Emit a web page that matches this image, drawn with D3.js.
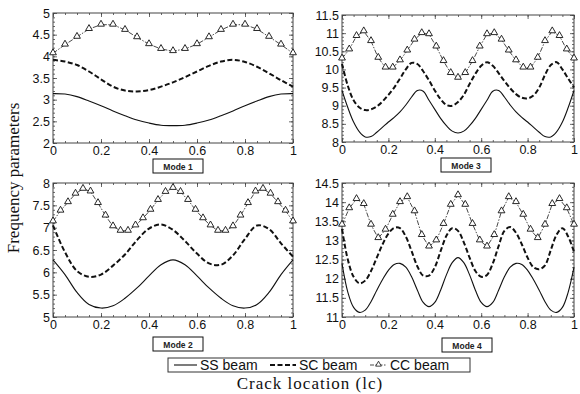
<!DOCTYPE html>
<html><head><meta charset="utf-8">
<script src="https://cdn.jsdelivr.net/npm/d3@7"></script>
<style>body{margin:0;background:#fff}svg{display:block}</style>
</head><body><svg id="c" width="580" height="394"></svg>
<script>
// ---------- data ----------
const xTickValues = [0, 0.2, 0.4, 0.6, 0.8, 1];
const legendLabels = ["SS beam", "SC beam", "CC beam"];
const modeNames = ["Mode 1", "Mode 2", "Mode 3", "Mode 4"];
const yTitle = "Frequency parameters";
const xTitle = "Crack location (lc)";

const mode1YTicks = [2, 2.5, 3, 3.5, 4, 4.5, 5];
const mode2YTicks = [5, 5.5, 6, 6.5, 7, 7.5, 8];
const mode3YTicks = [8, 8.5, 9, 9.5, 10, 10.5, 11, 11.5];
const mode4YTicks = [11, 11.5, 12, 12.5, 13, 13.5, 14, 14.5];

const coarseX = [0,0.05,0.1,0.15,0.2,0.25,0.3,0.35,0.4,0.45,0.5,0.55,0.6,0.65,0.7,0.75,0.8,0.85,0.9,0.95,1];
const fineX = [0,0.025,0.05,0.075,0.1,0.125,0.15,0.175,0.2,0.225,0.25,0.275,0.3,0.325,0.35,0.375,0.4,0.425,0.45,0.475,0.5,
               0.525,0.55,0.575,0.6,0.625,0.65,0.675,0.7,0.725,0.75,0.775,0.8,0.825,0.85,0.875,0.9,0.925,0.95,0.975,1];
const ccX = [0,0.03125,0.0625,0.09375,0.125,0.15625,0.1875,0.21875,0.25,0.28125,0.3125,0.34375,0.375,0.40625,0.4375,0.46875,0.5,
             0.53125,0.5625,0.59375,0.625,0.65625,0.6875,0.71875,0.75,0.78125,0.8125,0.84375,0.875,0.90625,0.9375,0.96875,1];

// Mode 1 (coarseX, CC at coarseX)
const mode1SS = [3.14,3.13,3.07,2.97,2.86,2.74,2.63,2.53,2.46,2.41,2.40,2.41,2.46,2.53,2.63,2.74,2.86,2.97,3.07,3.13,3.14];
const mode1SC = [3.92,3.88,3.80,3.65,3.47,3.30,3.21,3.19,3.22,3.30,3.40,3.52,3.65,3.78,3.88,3.92,3.87,3.76,3.61,3.45,3.30];
const mode1CC = [4.07,4.27,4.45,4.63,4.73,4.73,4.61,4.44,4.28,4.17,4.12,4.17,4.28,4.44,4.61,4.73,4.73,4.63,4.45,4.27,4.07];

// Mode 2 (coarseX, CC at ccX)
const mode2SS = [6.28,5.95,5.55,5.28,5.20,5.25,5.42,5.65,5.92,6.17,6.28,6.17,5.92,5.65,5.42,5.25,5.20,5.28,5.55,5.95,6.28];
const mode2SC = [7.05,6.45,6.03,5.90,5.95,6.15,6.40,6.72,6.98,7.07,6.95,6.70,6.42,6.20,6.17,6.38,6.75,7.05,6.97,6.65,6.35];
const mode2CC = [7.14,7.38,7.57,7.76,7.87,7.81,7.55,7.27,7.03,6.93,6.93,7.05,7.21,7.40,7.62,7.80,7.89,
                 7.80,7.62,7.40,7.21,7.05,6.93,6.93,7.03,7.27,7.55,7.81,7.87,7.76,7.57,7.38,7.14];

// Mode 3 (fineX, CC at ccX)
const mode3SS = [9.42,8.95,8.55,8.28,8.14,8.15,8.27,8.41,8.55,8.68,8.83,9.02,9.24,9.42,9.40,9.15,8.90,8.65,8.45,8.30,8.25,
                 8.30,8.45,8.65,8.90,9.15,9.40,9.42,9.24,9.02,8.83,8.68,8.55,8.41,8.27,8.15,8.14,8.28,8.55,8.95,9.42];
const mode3SC = [10.15,9.55,9.15,8.95,8.88,8.90,8.98,9.12,9.30,9.50,9.75,10.00,10.18,10.15,9.95,9.70,9.42,9.18,9.02,9.00,9.10,
                 9.30,9.60,9.88,10.10,10.20,10.10,9.90,9.68,9.48,9.32,9.22,9.20,9.28,9.50,9.85,10.12,10.20,10.00,9.75,9.50];
const mode3CC = [10.30,10.55,10.92,11.05,10.78,10.32,10.05,10.05,10.25,10.52,10.82,11.00,10.97,10.63,10.23,9.90,9.77,
                 9.90,10.23,10.63,10.97,11.00,10.82,10.52,10.25,10.05,10.05,10.32,10.78,11.05,10.92,10.55,10.30];

// Mode 4 (fineX, CC at ccX)
const mode4SS = [12.40,11.65,11.25,11.12,11.18,11.40,11.70,11.98,12.22,12.37,12.40,12.30,12.05,11.70,11.38,11.27,11.38,11.70,12.10,12.42,12.55,
                 12.42,12.10,11.70,11.38,11.27,11.38,11.70,12.05,12.30,12.40,12.37,12.22,11.98,11.70,11.40,11.18,11.12,11.25,11.65,12.30];
const mode4SC = [13.30,12.50,12.05,11.88,11.95,12.20,12.55,12.90,13.18,13.33,13.32,13.10,12.72,12.32,12.08,12.08,12.30,12.72,13.12,13.32,13.25,
                 12.95,12.55,12.20,12.05,12.10,12.40,12.85,13.25,13.35,13.20,12.90,12.55,12.30,12.25,12.35,12.75,13.15,13.32,13.10,12.70];
const mode4CC = [13.41,13.84,14.08,13.95,13.41,13.06,13.28,13.67,14.00,14.13,13.76,13.14,12.84,13.00,13.43,13.93,14.18,
                 13.93,13.43,13.00,12.84,13.14,13.76,14.13,14.00,13.67,13.28,13.06,13.41,13.95,14.08,13.84,13.41];

// ---------- layout ----------
const svg = d3.select("#c");
const sans = "'Liberation Sans', Arial, sans-serif";
const serif = "'Liberation Serif', 'Times New Roman', serif";

const panels = [
  {name: modeNames[0], x0: 53,  x1: 293, y0: 13,  y1: 143, dom: [2, 5],    yt: mode1YTicks, ssx: coarseX, ss: mode1SS, sc: mode1SC, ccx: coarseX, cc: mode1CC, bx: 153, by: 159},
  {name: modeNames[1], x0: 53,  x1: 293, y0: 183, y1: 317, dom: [5, 8],    yt: mode2YTicks, ssx: coarseX, ss: mode2SS, sc: mode2SC, ccx: ccX, cc: mode2CC, bx: 153, by: 337},
  {name: modeNames[2], x0: 342, x1: 574, y0: 15,  y1: 142, dom: [8, 11.5], yt: mode3YTicks, ssx: fineX, ss: mode3SS, sc: mode3SC, ccx: ccX, cc: mode3CC, bx: 441, by: 158},
  {name: modeNames[3], x0: 342, x1: 574, y0: 183, y1: 317, dom: [11, 14.5],yt: mode4YTicks, ssx: fineX, ss: mode4SS, sc: mode4SC, ccx: ccX, cc: mode4CC, bx: 442, by: 338}
];

const fmt = d => d3.format("~g")(d);
const frameColor = "#444";

function styleAxis(g) {
  g.select(".domain").remove();
  g.selectAll(".tick line").attr("stroke", frameColor).attr("stroke-width", 0.8);
  g.selectAll(".tick text").attr("fill", "#111").style("font-family", sans).style("font-size", "12.5px");
}

panels.forEach(p => {
  const x = d3.scaleLinear().domain([0, 1]).range([p.x0, p.x1]);
  const y = d3.scaleLinear().domain(p.dom).range([p.y1, p.y0]);
  const g = svg.append("g");

  const xMinor = d3.range(0, 1.0001, 0.05);
  const yMinor = d3.range(p.dom[0], p.dom[1] + 1e-6, 0.1);

  // minor ticks
  g.append("g").attr("transform", `translate(0,${p.y1})`).call(d3.axisBottom(x).tickValues(xMinor).tickSize(-2).tickFormat("")).call(styleAxis);
  g.append("g").attr("transform", `translate(0,${p.y0})`).call(d3.axisTop(x).tickValues(xMinor).tickSize(-2).tickFormat("")).call(styleAxis);
  g.append("g").attr("transform", `translate(${p.x0},0)`).call(d3.axisLeft(y).tickValues(yMinor).tickSize(-2).tickFormat("")).call(styleAxis);
  g.append("g").attr("transform", `translate(${p.x1},0)`).call(d3.axisRight(y).tickValues(yMinor).tickSize(-2).tickFormat("")).call(styleAxis);

  // major ticks
  g.append("g").attr("transform", `translate(0,${p.y1})`).call(d3.axisBottom(x).tickValues(xTickValues).tickSize(-4).tickPadding(3).tickFormat(fmt)).call(styleAxis);
  g.append("g").attr("transform", `translate(0,${p.y0})`).call(d3.axisTop(x).tickValues(xTickValues).tickSize(-4).tickFormat("")).call(styleAxis);
  g.append("g").attr("transform", `translate(${p.x0},0)`).call(d3.axisLeft(y).tickValues(p.yt).tickSize(-4).tickPadding(3).tickFormat(fmt)).call(styleAxis);
  g.append("g").attr("transform", `translate(${p.x1},0)`).call(d3.axisRight(y).tickValues(p.yt).tickSize(-4).tickFormat("")).call(styleAxis);

  g.append("rect").attr("x", p.x0).attr("y", p.y0).attr("width", p.x1 - p.x0).attr("height", p.y1 - p.y0)
    .attr("fill", "none").attr("stroke", frameColor).attr("stroke-width", 1);

  const smooth = d3.line().x(d => x(d[0])).y(d => y(d[1])).curve(d3.curveCatmullRom.alpha(0.5));
  const straight = d3.line().x(d => x(d[0])).y(d => y(d[1]));

  g.append("path").attr("d", smooth(p.ssx.map((v, i) => [v, p.ss[i]])))
    .attr("fill", "none").attr("stroke", "#111").attr("stroke-width", 1.1);
  g.append("path").attr("d", smooth(p.ssx.map((v, i) => [v, p.sc[i]])))
    .attr("fill", "none").attr("stroke", "#111").attr("stroke-width", 2).attr("stroke-dasharray", "5,2.5");
  const ccPts = p.ccx.map((v, i) => [v, p.cc[i]]);
  g.append("path").attr("d", straight(ccPts))
    .attr("fill", "none").attr("stroke", "#4a4a4a").attr("stroke-width", 1).attr("stroke-dasharray", "5,1.5,1.5,1.5");
  g.selectAll(".tri").data(ccPts).join("path")
    .attr("transform", d => `translate(${x(d[0])},${y(d[1]) - 0.5})`)
    .attr("d", d3.symbol(d3.symbolTriangle, 20))
    .attr("fill", "#fff").attr("stroke", "#111").attr("stroke-width", 0.9);

  // mode label box
  g.append("rect").attr("x", p.bx).attr("y", p.by).attr("width", 50).attr("height", 14)
    .attr("fill", "#fff").attr("stroke", "#111").attr("stroke-width", 1);
  g.append("text").attr("x", p.bx + 25).attr("y", p.by + 10.5).attr("text-anchor", "middle")
    .style("font-family", sans).style("font-size", "8.5px").style("font-weight", "bold").attr("fill", "#222").text(p.name);
});

// legend
const lg = svg.append("g");
lg.append("rect").attr("x", 168).attr("y", 358).attr("width", 302).attr("height", 14)
  .attr("fill", "#fff").attr("stroke", "#333").attr("stroke-width", 1);
const legendItems = [
  {x1: 174, x2: 197, tx: 200, stroke: "#111", w: 1.1, dash: null, tri: false},
  {x1: 270, x2: 296, tx: 299, stroke: "#111", w: 2, dash: "5,2.5", tri: false},
  {x1: 370, x2: 387, tx: 390, stroke: "#4a4a4a", w: 1, dash: "4,1.5,1.5,1.5", tri: true}
];
legendItems.forEach((it, i) => {
  lg.append("line").attr("x1", it.x1).attr("x2", it.x2).attr("y1", 365).attr("y2", 365)
    .attr("stroke", it.stroke).attr("stroke-width", it.w).attr("stroke-dasharray", it.dash);
  if (it.tri) lg.append("path").attr("transform", `translate(${(it.x1 + it.x2) / 2},364.5)`)
    .attr("d", d3.symbol(d3.symbolTriangle, 14)).attr("fill", "#fff").attr("stroke", "#111").attr("stroke-width", 0.8);
  lg.append("text").attr("x", it.tx).attr("y", 369.5).style("font-family", sans).style("font-size", "14px")
    .attr("fill", "#111").text(legendLabels[i]);
});

// titles
svg.append("text").attr("transform", "translate(19,178) rotate(-90)").attr("text-anchor", "middle")
  .style("font-family", serif).style("font-size", "17px").attr("fill", "#111").text(yTitle);
svg.append("text").attr("x", 310).attr("y", 389).attr("text-anchor", "middle")
  .style("font-family", serif).style("font-size", "17px").style("letter-spacing", "1px").attr("fill", "#111").text(xTitle);
</script>
</body></html>
